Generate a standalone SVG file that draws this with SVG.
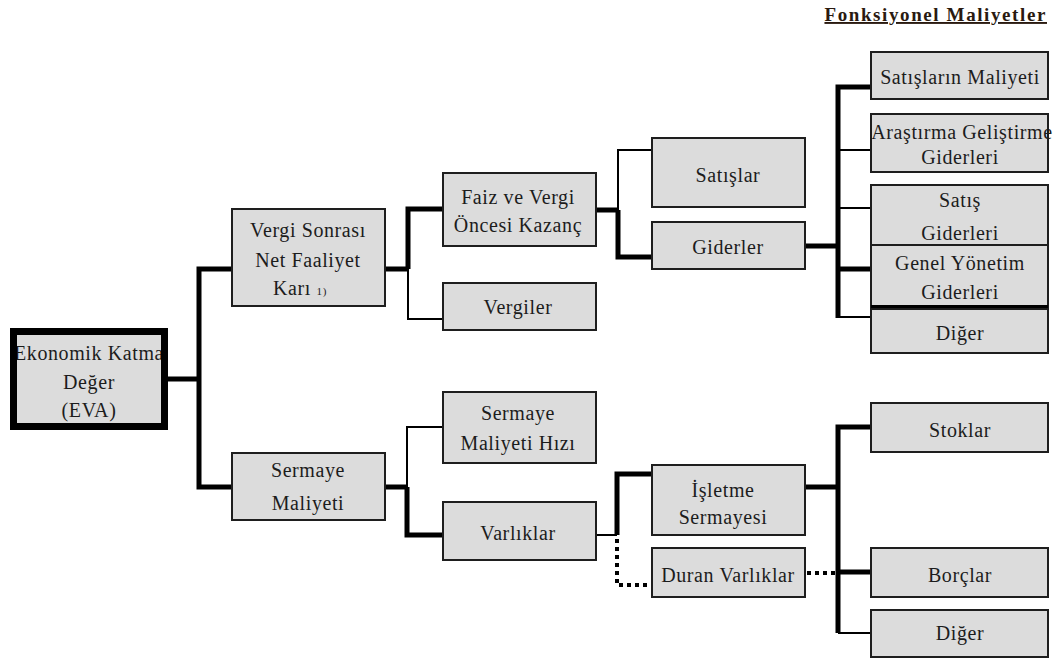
<svg xmlns="http://www.w3.org/2000/svg" width="1053" height="661" viewBox="0 0 1053 661">
<defs>
<style>
.box{fill:#dcdcdc;stroke:#1e1e1e;stroke-width:2}
.t{font-family:"Liberation Serif","Times New Roman",serif;font-size:20px;fill:#1c1c1c;text-anchor:middle;letter-spacing:0.6px}
.thick{fill:none;stroke:#000;stroke-width:5}
.thin{fill:none;stroke:#000;stroke-width:2}
.dot{fill:none;stroke:#000;stroke-width:4;stroke-dasharray:4 4}
</style>
<clipPath id="evaclip"><rect x="17" y="335" width="144" height="88"/></clipPath>
</defs>
<rect width="1053" height="661" fill="#fff"/>
<text x="1047" y="21" font-family="Liberation Serif, serif" font-size="19" font-weight="bold" text-anchor="end" letter-spacing="1.6" fill="#2a1a10" text-decoration="underline">Fonksiyonel Maliyetler</text>
<g id="connectors">
<path class="thick" d="M168 379H199M232 269H199V487H232"/>
<path class="thick" d="M385 269H408M443 209H408V269"/>
<path class="thin" d="M408 269V319H443"/>
<path class="thick" d="M596 210H618M618 210V257H652"/>
<path class="thin" d="M652 150H618V210"/>
<path class="thick" d="M805 246H838M871 87H838V318M838 269H871"/>
<path class="thin" d="M838 150H871M838 208H871M838 317H871"/>
<path class="thick" d="M385 487H407M407 487V535H443"/>
<path class="thin" d="M443 427H407V487"/>
<path class="thin" d="M596 535H617"/>
<path class="thick" d="M652 474H617V535"/>
<path class="dot" d="M617 539V585H652"/>
<path class="thick" d="M805 487H838M871 427H838V633M838 572H871"/>
<path class="thin" d="M838 633H871"/>
<path class="dot" d="M807 573H836"/>
</g>
<g id="eva">
<rect x="13.5" y="331.5" width="151" height="95" fill="#dcdcdc" stroke="#000" stroke-width="7"/>
<g clip-path="url(#evaclip)"><text class="t" x="89" y="360">Ekonomik Katma</text></g>
<text class="t" x="89" y="389">Değer</text>
<text class="t" x="89" y="417">(EVA)</text>
</g>
<g id="vergi-sonrasi">
<rect class="box" x="232" y="209" width="153" height="97"/>
<text class="t" x="308" y="237">Vergi Sonrası</text>
<text class="t" x="308" y="267">Net Faaliyet</text>
<text class="t" x="300" y="295">Karı <tspan font-size="11">1)</tspan></text>
</g>
<g id="sermaye-maliyeti">
<rect class="box" x="232" y="453" width="153" height="67"/>
<text class="t" x="308" y="477">Sermaye</text>
<text class="t" x="308" y="510">Maliyeti</text>
</g>
<g id="faiz">
<rect class="box" x="443" y="173" width="153" height="73"/>
<text class="t" x="518" y="204">Faiz ve Vergi</text>
<text class="t" x="518" y="232">Öncesi Kazanç</text>
</g>
<g id="vergiler">
<rect class="box" x="443" y="283" width="153" height="47"/>
<text class="t" x="518" y="314">Vergiler</text>
</g>
<g id="smh">
<rect class="box" x="443" y="392" width="153" height="71"/>
<text class="t" x="518" y="420">Sermaye</text>
<text class="t" x="518" y="450">Maliyeti Hızı</text>
</g>
<g id="varliklar">
<rect class="box" x="443" y="502" width="153" height="58"/>
<text class="t" x="518" y="540">Varlıklar</text>
</g>
<g id="satislar">
<rect class="box" x="652" y="138" width="153" height="69"/>
<text class="t" x="728" y="182">Satışlar</text>
</g>
<g id="giderler">
<rect class="box" x="652" y="222" width="153" height="47"/>
<text class="t" x="728" y="254">Giderler</text>
</g>
<g id="isletme">
<rect class="box" x="652" y="465" width="153" height="70"/>
<text class="t" x="723" y="497">İşletme</text>
<text class="t" x="723" y="524">Sermayesi</text>
</g>
<g id="duran">
<rect class="box" x="652" y="548" width="153" height="49"/>
<text class="t" x="728" y="582">Duran Varlıklar</text>
</g>
<g id="satislarin-maliyeti">
<rect class="box" x="871" y="52" width="177" height="47"/>
<text class="t" x="960" y="84">Satışların Maliyeti</text>
</g>
<g id="arastirma">
<rect class="box" x="871" y="114" width="177" height="58"/>
<text class="t" x="962" y="139">Araştırma Geliştirme</text>
<text class="t" x="960" y="164">Giderleri</text>
</g>
<g id="satis-giderleri">
<rect class="box" x="871" y="185" width="177" height="60"/>
<text class="t" x="960" y="207">Satış</text>
<text class="t" x="960" y="240">Giderleri</text>
</g>
<g id="genel-yonetim">
<rect class="box" x="871" y="245" width="177" height="62"/>
<line x1="871" y1="307" x2="1048" y2="307" stroke="#000" stroke-width="4"/>
<text class="t" x="960" y="270">Genel Yönetim</text>
<text class="t" x="960" y="299">Giderleri</text>
</g>
<g id="diger1">
<rect class="box" x="871" y="309" width="177" height="44"/>
<text class="t" x="960" y="340">Diğer</text>
</g>
<g id="stoklar">
<rect class="box" x="871" y="403" width="177" height="49"/>
<text class="t" x="960" y="437">Stoklar</text>
</g>
<g id="borclar">
<rect class="box" x="871" y="548" width="177" height="49"/>
<text class="t" x="960" y="582">Borçlar</text>
</g>
<g id="diger2">
<rect class="box" x="871" y="610" width="177" height="47"/>
<text class="t" x="960" y="640">Diğer</text>
</g>
</svg>
